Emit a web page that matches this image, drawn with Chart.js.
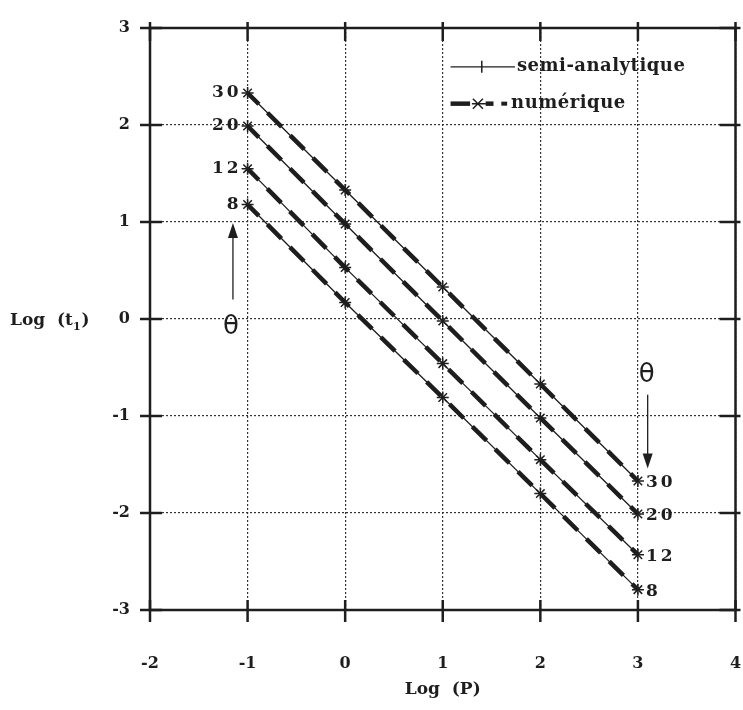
<!DOCTYPE html>
<html>
<head>
<meta charset="utf-8">
<script src="https://cdn.jsdelivr.net/npm/chart.js@4.4.1/dist/chart.umd.min.js"></script>
<style>
html,body{margin:0;padding:0;background:#fff;}
#wrap{width:743px;height:710px;position:relative;}
</style>
</head>
<body>
<div id="wrap"><canvas id="c" width="743" height="710"></canvas></div>
<script>
// ---- data ----
const logP = [-1, 0, 1, 2, 3];
const thetaLabels = ['30', '20', '12', '8'];
const semi30 = [2.33, 1.33, 0.33, -0.67, -1.67];
const semi20 = [1.99, 0.98, -0.02, -1.02, -2.01];
const semi12 = [1.55, 0.53, -0.46, -1.45, -2.43];
const semi8  = [1.18, 0.17, -0.81, -1.80, -2.79];
const num30 = [2.33, 1.33, 0.33, -0.67, -1.67];
const num20 = [1.99, 0.98, -0.02, -1.02, -2.01];
const num12 = [1.55, 0.53, -0.46, -1.45, -2.43];
const num8  = [1.18, 0.17, -0.81, -1.80, -2.79];
const xTicks = [-2, -1, 0, 1, 2, 3, 4];
const yTicks = [-3, -2, -1, 0, 1, 2, 3];
const legendLabels = ['semi-analytique', 'numérique'];
const xTitle = 'Log  (P)';
const yTitle = 'Log  (t';

const INK = '#1e1e1e';
const SERIF = '"DejaVu Serif", "Liberation Serif", serif';

function pts(ys) { return logP.map((x, i) => ({x: x, y: ys[i]})); }

const semiSets = [semi30, semi20, semi12, semi8];
const numSets = [num30, num20, num12, num8];
const datasets = [];
semiSets.forEach((s, i) => {
  datasets.push({
    label: legendLabels[0] + ' ' + thetaLabels[i],
    data: pts(s), showLine: true, borderColor: INK, backgroundColor: INK,
    borderWidth: 1.3, pointStyle: 'cross', pointRadius: 6, pointBorderWidth: 1.5
  });
});
numSets.forEach((s, i) => {
  datasets.push({
    label: legendLabels[1] + ' ' + thetaLabels[i],
    data: pts(s), showLine: true, borderColor: INK, backgroundColor: INK,
    borderWidth: 4.5, borderDash: [20, 12], borderDashOffset: 4,
    pointStyle: 'crossRot', pointRadius: 6, pointBorderWidth: 1.5
  });
});

const decor = {
  id: 'decor',
  afterDraw(chart) {
    const ctx = chart.ctx, a = chart.chartArea;
    const xs = chart.scales.x, ys = chart.scales.y;
    const X = v => xs.getPixelForValue(v), Y = v => ys.getPixelForValue(v);
    ctx.save();
    ctx.strokeStyle = INK; ctx.fillStyle = INK;
    // frame
    ctx.lineWidth = 2.5; ctx.setLineDash([]);
    ctx.strokeRect(a.left, a.top, a.right - a.left, a.bottom - a.top);
    // tick marks
    ctx.lineWidth = 2.5;
    yTicks.forEach(v => {
      const y = Y(v);
      ctx.beginPath(); ctx.moveTo(a.left - 10, y); ctx.lineTo(a.left + 12, y); ctx.stroke();
      ctx.beginPath(); ctx.moveTo(a.right - 16, y); ctx.lineTo(a.right + 5, y); ctx.stroke();
    });
    xTicks.forEach(v => {
      const x = X(v);
      ctx.beginPath(); ctx.moveTo(x, a.bottom - 10); ctx.lineTo(x, a.bottom + 12); ctx.stroke();
      ctx.beginPath(); ctx.moveTo(x, a.top - 6); ctx.lineTo(x, a.top + 13); ctx.stroke();
    });
    // axis titles
    ctx.font = 'bold 17px ' + SERIF;
    ctx.textBaseline = 'middle'; ctx.textAlign = 'left';
    const ty = Y(0) + 2;
    ctx.fillText(yTitle, 10, ty);
    let w = ctx.measureText(yTitle).width;
    ctx.font = 'bold 11px ' + SERIF;
    ctx.fillText('1', 10 + w, ty + 6);
    let w2 = ctx.measureText('1').width;
    ctx.font = 'bold 17px ' + SERIF;
    ctx.fillText(')', 10 + w + w2 + 1, ty);
    ctx.textAlign = 'center';
    ctx.fillText(xTitle, X(1), 690);
    // theta labels
    ctx.font = 'bold 17px ' + SERIF;
    ctx.letterSpacing = '3px';
    semiSets.forEach((s, i) => {
      ctx.textAlign = 'right';
      ctx.fillText(thetaLabels[i], X(logP[0]) - 6, Y(s[0]));
      ctx.textAlign = 'left';
      ctx.fillText(thetaLabels[i], X(logP[logP.length - 1]) + 8, Y(s[s.length - 1]) + 2);
    });
    ctx.letterSpacing = '0px';
    // theta symbols with arrows
    ctx.font = '26px "DejaVu Sans", sans-serif';
    ctx.textAlign = 'center';
    ctx.fillText('θ', X(-1.17), Y(-0.08));
    ctx.fillText('θ', X(3.09), Y(-0.58));
    ctx.lineWidth = 1.3;
    function arrow(x, y1, y2) {
      const px = X(x), p1 = Y(y1), p2 = Y(y2);
      const dir = p2 < p1 ? 1 : -1;
      ctx.beginPath(); ctx.moveTo(px, p1); ctx.lineTo(px, p2 + dir * 10); ctx.stroke();
      ctx.beginPath(); ctx.moveTo(px, p2); ctx.lineTo(px - 5, p2 + dir * 15); ctx.lineTo(px + 5, p2 + dir * 15); ctx.closePath(); ctx.fill();
    }
    arrow(-1.15, 0.2, 0.99);
    arrow(3.1, -0.78, -1.54);
    // legend
    const ly1 = Y(2.6), ly2 = Y(2.22);
    ctx.lineWidth = 1.3;
    ctx.beginPath(); ctx.moveTo(X(1.08), ly1); ctx.lineTo(X(1.74), ly1); ctx.stroke();
    ctx.lineWidth = 1.5;
    const cx = X(1.4);
    ctx.beginPath(); ctx.moveTo(cx, ly1 - 6); ctx.lineTo(cx, ly1 + 6); ctx.stroke();
    ctx.lineWidth = 4.5;
    ctx.beginPath(); ctx.moveTo(X(1.08), ly2); ctx.lineTo(X(1.28), ly2); ctx.stroke();
    ctx.beginPath(); ctx.moveTo(X(1.44), ly2); ctx.lineTo(X(1.52), ly2); ctx.stroke();
    ctx.lineWidth = 1.5;
    const mx = X(1.36);
    ctx.beginPath(); ctx.moveTo(mx - 5, ly2 - 5); ctx.lineTo(mx + 5, ly2 + 5); ctx.moveTo(mx + 5, ly2 - 5); ctx.lineTo(mx - 5, ly2 + 5); ctx.moveTo(mx - 6, ly2); ctx.lineTo(mx + 8, ly2); ctx.stroke();
    ctx.lineWidth = 4;
    ctx.beginPath(); ctx.moveTo(X(1.6), ly2); ctx.lineTo(X(1.66), ly2); ctx.stroke();
    ctx.font = 'bold 18px ' + SERIF;
    ctx.letterSpacing = '0.5px';
    ctx.textAlign = 'left';
    ctx.fillText(legendLabels[0], X(1.76), ly1);
    ctx.fillText(legendLabels[1], X(1.7), ly2);
    ctx.letterSpacing = '0px';
    ctx.restore();
  }
};

new Chart(document.getElementById('c'), {
  type: 'scatter',
  data: { datasets: datasets },
  options: {
    responsive: false, animation: false,
    layout: { padding: { left: 0, right: 4, top: 28, bottom: 0 } },
    plugins: { legend: { display: false }, tooltip: { enabled: false } },
    scales: {
      x: {
        min: -2, max: 4,
        afterFit: s => { s.height = 100; s.paddingLeft = 0; s.paddingRight = 0; },
        afterBuildTicks: s => { s.ticks = xTicks.map(v => ({value: v})); },
        ticks: { padding: 44, color: INK, font: { family: SERIF, weight: 'bold', size: 16 }, maxRotation: 0 },
        grid: { color: '#333', lineWidth: 1.2, drawTicks: false },
        border: { display: false, dash: [2, 2] }
      },
      y: {
        min: -3, max: 3,
        afterFit: s => { s.width = 150; s.paddingTop = 0; s.paddingBottom = 0; },
        afterBuildTicks: s => { s.ticks = yTicks.map(v => ({value: v})); },
        ticks: { padding: 20, color: INK, font: { family: SERIF, weight: 'bold', size: 16 } },
        grid: { color: '#333', lineWidth: 1.2, drawTicks: false },
        border: { display: false, dash: [2, 2] }
      }
    }
  },
  plugins: [decor]
});
</script>
</body>
</html>
